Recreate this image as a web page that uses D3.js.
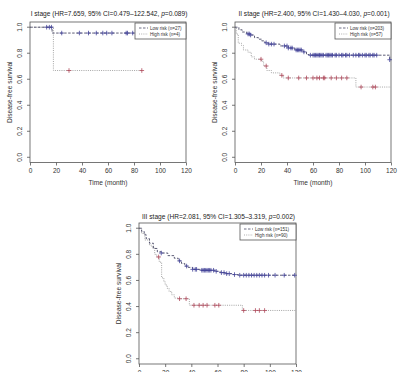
<!DOCTYPE html>
<html>
<head>
<meta charset="utf-8">
<script src="https://cdn.jsdelivr.net/npm/d3@7"></script>
<style>
  body { margin: 0; background: #fff; }
  svg { font-family: "Liberation Sans", Arial, sans-serif; }
</style>
</head>
<body>
<svg id="chart" width="400" height="372"></svg>
<script>
// ---- data (time in months, survival probability) ----
const xTicks = [0, 20, 40, 60, 80, 100, 120];
const yTicks = [0, 0.2, 0.4, 0.6, 0.8, 1.0];

const stageTitles = [
  ["I stage (HR=7.659, 95% CI=0.479\u2013122.542, ", "=0.089)"],
  ["II stage (HR=2.400, 95% CI=1.430\u20134.030, ", "=0.001)"],
  ["III stage (HR=2.081, 95% CI=1.305\u20133.319, ", "=0.002)"]
];
const lowLabels = ["Low risk (n=27)", "Low risk (n=203)", "Low risk (n=151)"];
const highLabels = ["High risk (n=4)", "High risk (n=57)", "High risk (n=90)"];

// stage I
const s1LowSteps = [[0, 1], [17, 0.955], [80, 0.955]];
const s1LowCensor = [12.8, 14.9, 16.5, 24.4, 38, 45, 51, 56, 59, 63, 74, 75, 79];
const s1HighSteps = [[0, 1], [18, 0.667], [86, 0.667]];
const s1HighCensor = [30, 86];

// stage II
const s2LowSteps = [[0, 1], [3, 0.98], [5.5, 0.963], [9, 0.948], [12, 0.94], [15, 0.92], [18, 0.908],
  [20.5, 0.895], [23, 0.88], [25.6, 0.87], [34.6, 0.856], [41, 0.84], [46, 0.825], [52.5, 0.81],
  [55, 0.79], [57, 0.785], [119, 0.75], [120, 0.75]];
const s2LowCensor = [10, 11, 12, 24, 26, 28, 30, 38, 40, 41, 43, 44, 47, 48, 49, 50, 51, 53, 58, 60, 61,
  62, 63, 64, 65, 66, 67, 68, 70, 71, 72, 73, 74, 75, 77, 78, 80, 82, 83, 85, 86, 88, 91, 93, 95, 96,
  98, 100, 101, 103, 104, 106, 107, 109, 119];
const s2HighSteps = [[0, 1], [1, 0.947], [2.5, 0.877], [5, 0.86], [6.5, 0.825], [10, 0.807], [12.5, 0.772],
  [15, 0.754], [20.5, 0.737], [22, 0.702], [24.5, 0.667], [28, 0.649], [34.5, 0.63], [37, 0.61],
  [93, 0.54], [120, 0.54]];
const s2HighCensor = [20, 24, 36, 41, 49, 55, 60, 63, 65, 68, 69, 74, 78, 82, 86, 97, 106, 108];

// stage III
const s3LowSteps = [[0, 1], [2, 0.975], [4, 0.95], [5.5, 0.92], [8, 0.885], [11, 0.845], [14, 0.82],
  [17, 0.81], [22, 0.79], [27, 0.77], [30, 0.75], [32.5, 0.73], [35, 0.71], [37.5, 0.7], [41, 0.685],
  [47, 0.678], [58, 0.67], [62, 0.66], [66, 0.652], [72, 0.645], [76, 0.64], [120, 0.64]];
const s3LowCensor = [17, 31, 36.4, 41, 43, 44, 48, 49, 50, 51, 52, 53, 54, 55, 57, 59, 63, 65, 67, 69,
  73, 77, 80, 82, 84, 86, 88, 90, 92, 94, 96, 99, 104, 111, 119];
const s3HighSteps = [[0, 1], [2, 0.96], [4.5, 0.91], [8, 0.87], [10, 0.85], [12, 0.8], [13.5, 0.78],
  [15.5, 0.74], [17.3, 0.62], [19, 0.59], [20, 0.565], [21.5, 0.54], [23, 0.515], [25, 0.49],
  [27, 0.465], [30, 0.46], [38.5, 0.41], [79, 0.37], [120, 0.37]];
const s3HighCensor = [15, 31, 36, 42, 46, 49, 52, 58, 61, 80, 89, 92, 96];

// ---- layout of the three panels ----
const panels = [
  { left: 30, right: 186, top: 22, bottom: 162.5, titleY: 15.5,
    low: s1LowSteps, lowC: s1LowCensor, high: s1HighSteps, highC: s1HighCensor, idx: 0 },
  { left: 235, right: 391, top: 22, bottom: 162.5, titleY: 15.5,
    low: s2LowSteps, lowC: s2LowCensor, high: s2HighSteps, highC: s2HighCensor, idx: 1 },
  { left: 139, right: 296, top: 223, bottom: 364, titleY: 218.5,
    low: s3LowSteps, lowC: s3LowCensor, high: s3HighSteps, highC: s3HighCensor, idx: 2 }
];

const axisColor = "#555", textColor = "#333";
const lowLine = "#4a4a66", highLine = "#9a9a9a";
const lowMark = "#45459a", highMark = "#b04a5c";

const svg = d3.select("#chart");

function survAt(steps, t) {
  let s = steps[0][1];
  steps.forEach(d => { if (d[0] <= t) s = d[1]; });
  return s;
}

panels.forEach(p => {
  const x = d3.scaleLinear().domain([0, 120]).range([p.left, p.right]);
  const y = d3.scaleLinear().domain([-0.04, 1.04]).range([p.bottom, p.top]);
  const g = svg.append("g");

  // box
  g.append("rect")
    .attr("x", p.left).attr("y", p.top)
    .attr("width", p.right - p.left).attr("height", p.bottom - p.top)
    .attr("fill", "none").attr("stroke", axisColor).attr("stroke-width", 0.8);

  // axes
  const xAx = g.append("g")
    .attr("transform", `translate(0,${p.bottom})`)
    .call(d3.axisBottom(x).tickValues(xTicks).tickSize(3).tickPadding(3).tickFormat(d3.format("d")));
  const yAx = g.append("g")
    .attr("transform", `translate(${p.left},0)`)
    .call(d3.axisLeft(y).tickValues(yTicks).tickSize(3).tickFormat(d3.format(".1f")));
  [xAx, yAx].forEach(a => {
    a.select(".domain").remove();
    a.selectAll("line").attr("stroke", axisColor).attr("stroke-width", 0.8);
    a.selectAll("text").attr("font-size", 6.5).attr("fill", textColor)
      .attr("font-family", "Liberation Sans, Arial, sans-serif");
  });
  yAx.selectAll("text")
    .attr("x", 0).attr("dy", 0)
    .attr("text-anchor", "middle")
    .attr("transform", d => `translate(-8,${y(d)}) rotate(-90)`)
    .attr("y", 0);
  yAx.selectAll(".tick").attr("transform", null);
  yAx.selectAll(".tick line").attr("y1", d => y(d)).attr("y2", d => y(d));

  // axis titles
  g.append("text")
    .attr("x", (p.left + p.right) / 2).attr("y", p.bottom + 22)
    .attr("text-anchor", "middle").attr("font-size", 6.6).attr("fill", textColor)
    .text("Time (month)");
  g.append("text")
    .attr("transform", `translate(${p.left - 18},${y(0.5)}) rotate(-90)`)
    .attr("text-anchor", "middle").attr("font-size", 6.6).attr("fill", textColor)
    .text("Disease-free survival");

  // title
  const t = g.append("text")
    .attr("x", (p.left + p.right) / 2 + 1).attr("y", p.titleY)
    .attr("text-anchor", "middle").attr("font-size", 6.6).attr("fill", "#222");
  t.append("tspan").text(stageTitles[p.idx][0]);
  t.append("tspan").attr("font-style", "italic").text("p");
  t.append("tspan").text(stageTitles[p.idx][1]);

  // curves
  const line = d3.line().x(d => x(d[0])).y(d => y(d[1])).curve(d3.curveStepAfter);
  g.append("path").datum(p.high).attr("d", line)
    .attr("fill", "none").attr("stroke", highLine).attr("stroke-width", 0.9)
    .attr("stroke-dasharray", "1,1.2");
  g.append("path").datum(p.low).attr("d", line)
    .attr("fill", "none").attr("stroke", lowLine).attr("stroke-width", 0.9)
    .attr("stroke-dasharray", "2.5,1.5");

  // censor marks
  const marks = (times, steps, color) => {
    g.selectAll(null).data(times).enter().append("path")
      .attr("d", d => {
        const cx = x(d), cy = y(survAt(steps, d));
        return `M${cx - 2.3},${cy}H${cx + 2.3}M${cx},${cy - 2.3}V${cy + 2.3}`;
      })
      .attr("stroke", color).attr("stroke-width", 0.8);
  };
  marks(p.highC, p.high, highMark);
  marks(p.lowC, p.low, lowMark);

  // legend
  const lw = p.idx === 0 ? 51 : 56;
  const lg = g.append("g").attr("transform", `translate(${p.right - lw},${p.top + 1})`);
  lg.append("rect").attr("width", lw).attr("height", 16)
    .attr("fill", "#fff").attr("stroke", axisColor).attr("stroke-width", 0.8);
  [[lowLabels[p.idx], lowLine, "2.5,1.5"], [highLabels[p.idx], highLine, "1,1.2"]].forEach((r, i) => {
    const yy = 5 + i * 6;
    lg.append("line").attr("x1", 4).attr("x2", 13).attr("y1", yy).attr("y2", yy)
      .attr("stroke", r[1]).attr("stroke-width", 0.8).attr("stroke-dasharray", r[2]);
    lg.append("text").attr("x", 15).attr("y", yy + 1.6)
      .attr("font-size", 4.6).attr("fill", textColor).text(r[0]);
  });
});
</script>
</body>
</html>
